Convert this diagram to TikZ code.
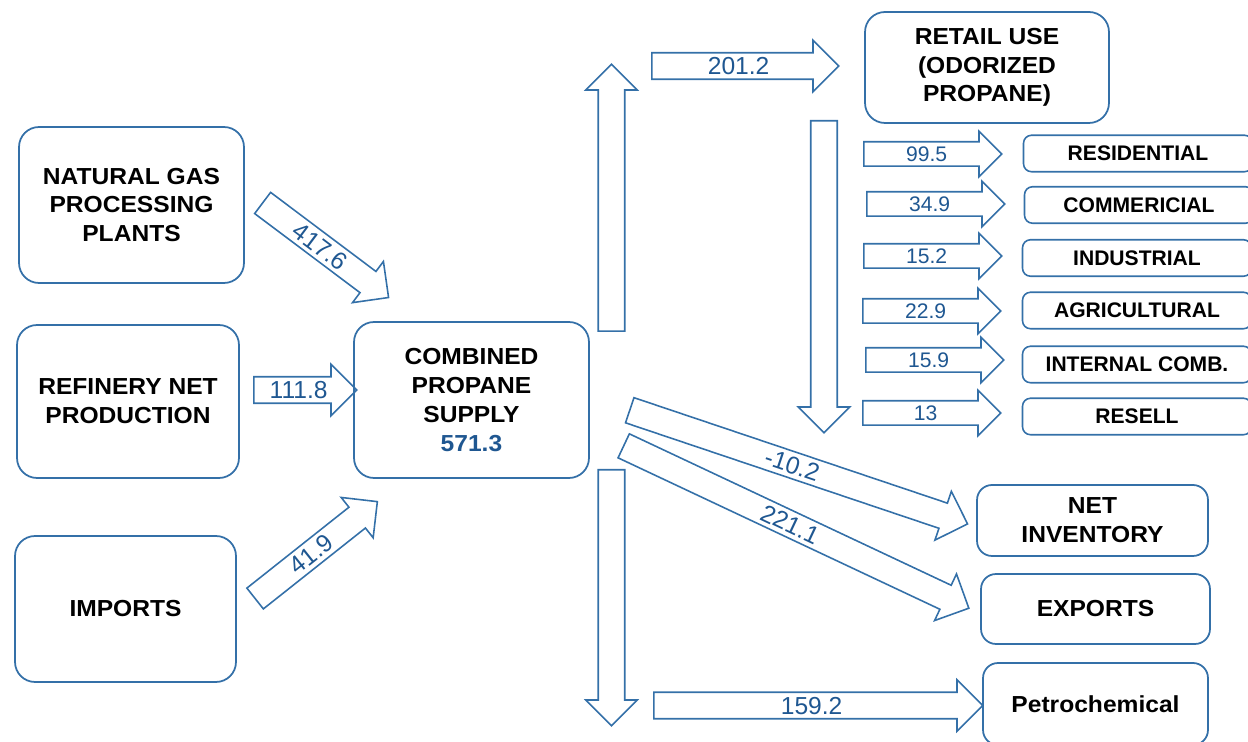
\documentclass[tikz,border=0pt]{standalone}
\usepackage{fontspec}
\setmainfont{Liberation Sans}
\newfontfamily\boxfont[FakeStretch=1.06]{Liberation Sans}
\usetikzlibrary{shapes.arrows}
\definecolor{boxblue}{RGB}{52,112,168}
\definecolor{numblue}{RGB}{31,87,145}
\begin{document}
\begin{tikzpicture}[x=0.02cm,y=-0.02cm,
  box/.style={draw=boxblue,line width=1pt,rounded corners=0.4cm,align=center,
    font=\boxfont\fontsize{13.2}{16.4}\selectfont\bfseries},
  usebox/.style={draw=boxblue,line width=0.9pt,rounded corners=0.16cm,
    minimum width=4.58cm,minimum height=0.73cm,font=\fontsize{12}{14}\selectfont\bfseries},
  flow/.style={single arrow,draw=boxblue,line width=0.9pt,single arrow tip angle=90,
    single arrow head extend=7.1pt,text height=10pt,text depth=0pt,inner ysep=2.1pt,
    inner xsep=0pt,anchor=tail,text=numblue,font=\fontsize{14}{14}\selectfont},
  smallflow/.style={flow,single arrow head extend=6pt,text height=8.6pt,inner ysep=2.2pt,
    minimum height=2.76cm,font=\fontsize{12}{12}\selectfont}]
\clip (0,0) rectangle (1248,742);

\node[box,minimum width=4.5cm,minimum height=3.12cm] (gas) at (131.5,205) {NATURAL GAS\\PROCESSING\\PLANTS};
\node[box,minimum width=4.44cm,minimum height=3.06cm] (refinery) at (128,401.5) {REFINERY NET\\PRODUCTION};
\node[box,minimum width=4.42cm,minimum height=2.92cm] (imports) at (125.5,609) {IMPORTS};
\node[box,minimum width=4.7cm,minimum height=3.12cm] (supply) at (471.5,400) {COMBINED\\PROPANE\\SUPPLY\\\textcolor{numblue}{571.3}};
\node[box,minimum width=4.88cm,minimum height=2.22cm] (retail) at (987,67.5) {RETAIL USE\\(ODORIZED\\PROPANE)};
\node[box,rounded corners=0.3cm,minimum width=4.62cm,minimum height=1.42cm] (inventory) at (1092.5,520.5) {NET\\INVENTORY};
\node[box,rounded corners=0.3cm,minimum width=4.58cm,minimum height=1.4cm] (exports) at (1095.5,609) {EXPORTS};
\node[box,rounded corners=0.3cm,minimum width=4.5cm,minimum height=1.64cm] (petro) at (1095.5,704) {Petrochemical};

\node[usebox] (residential) at (1138,153.5) {RESIDENTIAL};
\node[usebox] (commercial) at (1139,205) {COMMERICIAL};
\node[usebox] (industrial) at (1137,258) {INDUSTRIAL};
\node[usebox] (agricultural) at (1137,310.5) {AGRICULTURAL};
\node[usebox] (internal) at (1137,364.5) {INTERNAL COMB.};
\node[usebox] (resell) at (1137,416.5) {RESELL};

\node[flow,rotate=-36.9,minimum height=3.15cm] (fgas) at (262,202.5) {417.6};
\node[flow,minimum height=2.06cm] (frefinery) at (253,390) {111.8};
\node[flow,rotate=38.4,minimum height=3.12cm] (fimports) at (254.5,599) {41.9};

\node[flow,rotate=90,minimum height=5.34cm] (fup) at (611.5,332) {};
\node[flow,minimum height=3.74cm] (fretail) at (651,66) {201.2};
\node[flow,rotate=-90,minimum height=6.24cm] (fdown) at (824,120) {};

\node[smallflow] (fresidential) at (863,154) {99.5};
\node[smallflow] (fcommercial) at (866,204) {34.9};
\node[smallflow] (findustrial) at (863,256) {15.2};
\node[smallflow] (fagricultural) at (862,311) {22.9};
\node[smallflow] (finternal) at (865,360) {15.9};
\node[smallflow] (fresell) at (862,413) {13};

\node[flow,rotate=-18.6,minimum height=7.13cm] (finventory) at (629,410) {-10.2};
\node[flow,rotate=-25.2,minimum height=7.63cm] (fexports) at (623,445.5) {221.1};
\node[flow,rotate=-90,minimum height=5.12cm] (fbottom) at (611.5,469) {};
\node[flow,minimum height=6.58cm] (fpetro) at (653,705.5) {159.2};
\end{tikzpicture}
\end{document}
